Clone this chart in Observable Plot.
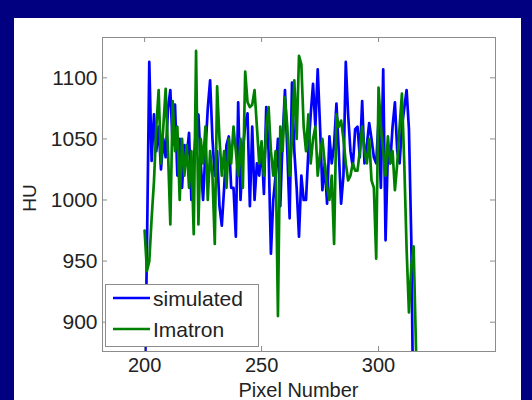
<!DOCTYPE html>
<html>
<head>
<meta charset="utf-8">
<script src="https://cdn.jsdelivr.net/npm/d3@7"></script>
<script src="https://cdn.jsdelivr.net/npm/@observablehq/plot@0.6"></script>
<style>
  html, body { margin: 0; padding: 0; }
  body { width: 532px; height: 400px; background: #000080; position: relative; overflow: hidden; font-family: "Liberation Sans", Arial, sans-serif; }
  #panel { position: absolute; left: 14px; top: 18px; width: 507px; height: 382px; background: #ffffff; }
  #chart { position: absolute; left: 0; top: 0; }
</style>
</head>
<body>
<div id="panel"></div>
<div id="chart"></div>
<script>
// Pixel numbers
const pixelsSimulated = d3.range(200, 316);
const pixelsImatron = d3.range(200, 318);

// HU values
const simulated = [
  830, 960, 1113, 1032, 1070, 1040, 1060, 1025, 1050, 1035,
  1075, 1090, 1045, 1078, 1020, 1050, 1010, 1045, 1035, 1055,
  1000, 1030, 1060, 1070, 1030, 1000, 1040, 1075, 1098, 1050,
  1020, 1040, 995, 979, 1010, 1045, 1052, 1010, 1010, 970,
  1080, 1000, 1040, 1062, 1071, 995, 1060, 1000, 1030, 1020,
  1045, 1005, 1076, 1040, 956, 1000, 1020, 1050, 995, 1050,
  1090, 1040, 985, 1096, 1040, 1010, 970, 1020, 1000, 1000,
  1040, 1070, 1095, 1060, 1107, 1060, 1008, 1030, 997, 1052,
  1030, 1045, 1079, 1040, 997, 1020, 1113, 1070, 1040, 1027,
  1058, 1060, 1035, 1081, 1030, 1045, 1063, 1050, 1035, 1030,
  1065, 1010, 1107, 967, 1040, 1030, 1060, 1080, 1040, 1030,
  1060, 1075, 1090, 1058, 968, 800
];
const imatron = [
  975, 942, 950, 985, 1015, 1060, 1090, 1030, 1060, 1091,
  1040, 980, 1081, 1040, 1060, 1000, 1050, 1020, 1045, 1010,
  1040, 972, 1122, 980, 1050, 1030, 1060, 1000, 1040, 1020,
  964, 1093, 1050, 1020, 1040, 1010, 1050, 1030, 1060, 1040,
  1020, 1050, 1010, 1105, 1080, 1076, 1078, 1090, 1060, 1030,
  1048, 1020, 1060, 1076, 1040, 1020, 1040, 905, 1060, 1040,
  1084, 1060, 1020, 1050, 1098, 1050, 1118, 1111, 1060, 1040,
  1070, 1030, 1050, 1060, 1020, 1038, 1050, 1030, 1010, 1000,
  1020, 964, 1070, 1060, 1065, 1050, 1030, 1016, 1020, 1030,
  1024, 1024, 1040, 1060, 1040, 1030, 1050, 1016, 1010, 952,
  1092, 1060, 1040, 1020, 1052, 1030, 1040, 1008, 1030, 1060,
  1087, 1030, 960, 908, 945, 962, 880, 790
];

const xTicks = [200, 250, 300];
const yTicks = [900, 950, 1000, 1050, 1100];
const xDomain = [182, 350];
const yDomain = [876, 1133];
const seriesNames = ["simulated", "Imatron"];
const seriesColors = ["#0000ff", "#008000"];

const simData = pixelsSimulated.map((p, i) => ({x: p, y: simulated[i]}));
const imaData = pixelsImatron.map((p, i) => ({x: p, y: imatron[i]}));

const tickColor = "#8c8c8c";
const textColor = "#222222";
const W = 532, H = 400;
const mL = 102, mR = 37, mT = 37, mB = 49;
const pxX = (xDomain[1] - xDomain[0]) / (W - mL - mR);
const pxY = (yDomain[1] - yDomain[0]) / (H - mT - mB);
const tickLen = 5;

const plot = Plot.plot({
  width: W,
  height: H,
  marginLeft: mL,
  marginRight: mR,
  marginTop: mT,
  marginBottom: mB,
  style: {background: "transparent", fontFamily: "'Liberation Sans', Arial, sans-serif", color: textColor, overflow: "visible"},
  x: {domain: xDomain},
  y: {domain: yDomain},
  marks: [
    Plot.line(simData, {x: "x", y: "y", stroke: seriesColors[0], strokeWidth: 2.7, clip: true, strokeLinejoin: "round"}),
    Plot.line(imaData, {x: "x", y: "y", stroke: seriesColors[1], strokeWidth: 2.7, clip: true, strokeLinejoin: "round"}),
    Plot.frame({stroke: tickColor, strokeWidth: 1}),
    // inward ticks
    Plot.ruleY(yTicks, {x1: xDomain[0], x2: xDomain[0] + tickLen * pxX, stroke: tickColor}),
    Plot.ruleY(yTicks, {x1: xDomain[1] - tickLen * pxX, x2: xDomain[1], stroke: tickColor}),
    Plot.ruleX(xTicks, {y1: yDomain[0], y2: yDomain[0] + tickLen * pxY, stroke: tickColor}),
    Plot.ruleX(xTicks, {y1: yDomain[1] - tickLen * pxY, y2: yDomain[1], stroke: tickColor}),
    Plot.axisX({ticks: xTicks, tickSize: 0, tickPadding: 6, fontSize: 20, label: null, fill: textColor}),
    Plot.axisY({ticks: yTicks, tickSize: 0, tickPadding: 5, fontSize: 21, label: null, fill: textColor, tickFormat: d => String(d)})
  ]
});

const svg = d3.select(plot);
// Axis titles
svg.append("text")
  .attr("x", (mL + W - mR) / 2).attr("y", 397)
  .attr("text-anchor", "middle")
  .attr("font-size", 20).attr("fill", textColor)
  .text("Pixel Number");
svg.append("text")
  .attr("transform", "translate(36,198) rotate(-90)")
  .attr("text-anchor", "middle")
  .attr("font-size", 19).attr("fill", textColor)
  .text("HU");

// Legend
const lg = svg.append("g");
lg.append("rect").attr("x", 105.5).attr("y", 284.5).attr("width", 153).attr("height", 62)
  .attr("fill", "#ffffff").attr("stroke", tickColor).attr("stroke-width", 1);
seriesNames.forEach((name, i) => {
  const yy = 298 + i * 31;
  lg.append("line").attr("x1", 113).attr("x2", 150).attr("y1", yy).attr("y2", yy)
    .attr("stroke", seriesColors[i]).attr("stroke-width", 2.7);
  lg.append("text").attr("x", 153).attr("y", yy + 8)
    .attr("text-anchor", "start")
    .attr("font-size", 21).attr("fill", textColor).text(name);
});

document.getElementById("chart").appendChild(plot);
</script>
</body>
</html>
